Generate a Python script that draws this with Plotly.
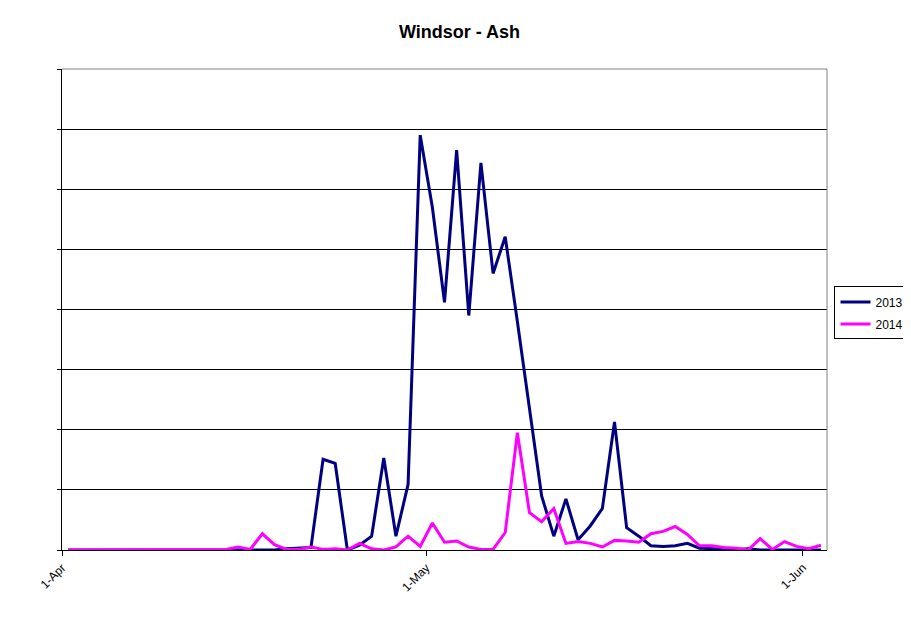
"""
Windsor - Ash: daily counts for 2013 and 2014, April to early June.
"""

import pandas as pd
import plotly.graph_objects as go

# ------------------------------------------------------- Data ---------------------------------------------------------

# one shared calendar (year ignored) from 1-Apr to 2-Jun
days = pd.date_range("2014-04-01", "2014-06-02", freq="D")

ash_2013 = [
    0, 0, 0, 0, 0, 0, 0, 0, 0, 0,
    0, 0, 0, 0, 0, 0, 0, 0, 0.02, 0.03,
    0.04, 1.51, 1.44, 0.0, 0.08, 0.23, 1.53, 0.23, 1.09, 6.90,
    5.70, 4.12, 6.65, 3.90, 6.44, 4.60, 5.21, 3.80, 2.37, 0.90,
    0.23, 0.85, 0.17, 0.40, 0.69, 2.13, 0.37, 0.23, 0.07, 0.06,
    0.07, 0.11, 0.03, 0.02, 0.02, 0.01, 0.02, 0, 0, 0,
    0, 0, 0,
]

ash_2014 = [
    0, 0, 0, 0, 0, 0, 0, 0, 0, 0,
    0, 0, 0, 0.01, 0.05, 0.01, 0.27, 0.09, 0.01, 0.01,
    0.05, 0.01, 0.02, 0.0, 0.11, 0.02, 0.0, 0.05, 0.23, 0.06,
    0.45, 0.13, 0.15, 0.05, 0.01, 0.01, 0.29, 1.95, 0.62, 0.47,
    0.69, 0.11, 0.14, 0.11, 0.05, 0.16, 0.15, 0.13, 0.27, 0.31,
    0.39, 0.26, 0.07, 0.07, 0.04, 0.03, 0.0, 0.19, 0.01, 0.14,
    0.06, 0.02, 0.08,
]

tick_dates = ["2014-04-01", "2014-05-01", "2014-06-01"]
tick_labels = ["1-Apr", "1-May", "1-Jun"]

# ------------------------------------------------------- Chart --------------------------------------------------------

FONT = "Liberation Sans, Arial, sans-serif"
DAY_MS = 86400000
# the page body adds an 8px margin, so the figure is drawn 8px smaller and everything is placed relative to that
W, H = 903, 615

fig = go.Figure()
fig.add_trace(go.Scatter(
    x=days, y=ash_2013, name="2013", mode="lines", legendgroup="a",
    line=dict(color="#000080", width=3),
    xperiod=DAY_MS, xperiodalignment="middle",
))
fig.add_trace(go.Scatter(
    x=days, y=ash_2014, name="2014", mode="lines", legendgroup="b",
    line=dict(color="#FF00FF", width=3),
    xperiod=DAY_MS, xperiodalignment="middle",
))

fig.update_layout(
    width=W, height=H,
    margin=dict(l=54, r=83.5, t=61, b=72.5, autoexpand=False),
    paper_bgcolor="white", plot_bgcolor="white",
    font=dict(family=FONT, size=12, color="black"),
    title=dict(
        text="<b>Windsor - Ash</b>", x=0.5, xanchor="center",
        y=1 - 23.5 / H, yanchor="middle", font=dict(family=FONT, size=18, color="black"),
    ),
    showlegend=True,
    legend=dict(
        x=1.0098, y=0.548, xanchor="left", yanchor="top",
        bordercolor="black", borderwidth=1, bgcolor="white",
        font=dict(family=FONT, size=12, color="black"),
        tracegroupgap=3, itemwidth=30,
    ),
    xaxis=dict(
        type="date", range=["2014-04-01", "2014-06-03"],
        tickvals=tick_dates, ticktext=tick_labels, tickangle=-45,
        ticks="outside", ticklen=5, tickcolor="black", tickwidth=1,
        showgrid=False, zeroline=False, automargin=False,
        showline=True, linecolor="black", linewidth=1,
    ),
    yaxis=dict(
        range=[0, 8], tickvals=list(range(9)), showticklabels=False,
        ticks="outside", ticklen=4, tickcolor="black", tickwidth=1,
        showgrid=True, gridcolor="black", gridwidth=1, zeroline=False, automargin=False,
        showline=True, linecolor="black", linewidth=1,
    ),
    shapes=[
        # grey top and right edges of the plot area
        dict(type="line", xref="paper", yref="paper", x0=0, x1=1, y0=1, y1=1,
             line=dict(color="#808080", width=1), layer="above"),
        dict(type="line", xref="paper", yref="paper", x0=1, x1=1, y0=0, y1=1,
             line=dict(color="#808080", width=1), layer="above"),
    ],
)

fig.write_html("out.html")
